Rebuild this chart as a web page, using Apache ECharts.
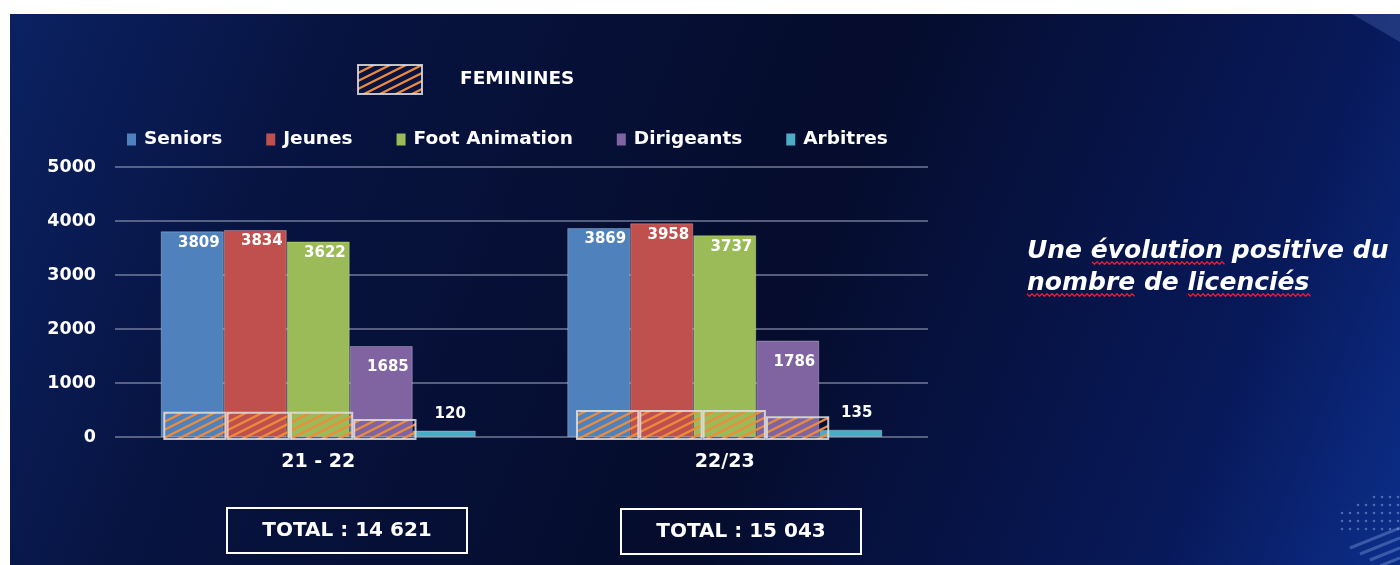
<!DOCTYPE html>
<html>
<head>
<meta charset="utf-8">
<script src="https://cdn.jsdelivr.net/npm/echarts@6/dist/echarts.min.js"></script>
<style>
html,body{margin:0;padding:0;background:#fff;}
#chart{width:1400px;height:565px;}
</style>
</head>
<body>
<div id="chart"></div>
<script>
// ---- data ----
const categories = ['21 - 22', '22/23'];
const seriesNames = ['Seniors', 'Jeunes', 'Foot Animation', 'Dirigeants', 'Arbitres'];
const seniors = [3809, 3869];
const jeunes = [3834, 3958];
const footAnimation = [3622, 3737];
const dirigeants = [1685, 1786];
const arbitres = [120, 135];
// feminine share (estimated from hatched overlays)
const femSeniors = [524, 555];
const femJeunes = [524, 555];
const femFootAnimation = [524, 555];
const femDirigeants = [389, 439];
const yTicks = [0, 1000, 2000, 3000, 4000, 5000];
const totals = ['TOTAL : 14 621', 'TOTAL : 15 043'];
const sideText = ['Une évolution positive du', 'nombre de licenciés'];
const femLegend = 'FEMININES';

// ---- styles ----
const FONT = 'DejaVu Sans';
const colors = ['#4f81bd', '#c0504d', '#9bbb59', '#8064a2', '#4bacc6'];
const mainData = [seniors, jeunes, footAnimation, dirigeants, arbitres];
const femData = [femSeniors, femJeunes, femFootAnimation, femDirigeants];

// hatch pattern
function makeHatch(bg) {
  const c = document.createElement('canvas');
  c.width = 16; c.height = 8;
  const ctx = c.getContext('2d');
  if (bg) { ctx.fillStyle = bg; ctx.fillRect(0, 0, 16, 8); }
  ctx.strokeStyle = '#ee8c3a';
  ctx.lineWidth = 2.2;
  for (let k = -1; k <= 1; k++) {
    ctx.beginPath();
    ctx.moveTo(-16, 16 + k * 8);
    ctx.lineTo(32, -8 + k * 8);
    ctx.stroke();
  }
  return c;
}
const hatch = makeHatch(null);
const hatchLegend = makeHatch('#0a1440');

const chart = echarts.init(document.getElementById('chart'), null, {renderer: 'canvas'});

function zigzag(x1, x2, y) {
  const pts = [];
  let up = true;
  for (let x = x1; x <= x2; x += 2.5) {
    pts.push([x, y + (up ? -1.3 : 1.3)]);
    up = !up;
  }
  return pts;
}

const labelOffsets = [[0, 0], [0, 0], [0, 0], [0, 10]];

const series = [];
mainData.forEach((d, i) => {
  const isLast = i === 4;
  series.push({
    name: seriesNames[i],
    type: 'bar',
    xAxisIndex: 0, yAxisIndex: 0,
    data: d,
    barGap: '0%',
    barCategoryGap: '22.5%',
    itemStyle: {color: colors[i], borderColor: 'rgba(255,255,255,0.28)', borderWidth: 1},
    label: isLast ? {
      show: true, position: 'top', distance: 9, color: '#fff',
      fontFamily: FONT, fontWeight: 'bold', fontSize: 15, offset: [6, 0]
    } : {
      show: true, position: 'insideTopRight', distance: 4, color: '#fff',
      fontFamily: FONT, fontWeight: 'bold', fontSize: 15, offset: labelOffsets[i]
    },
    z: 2
  });
});
femData.forEach((d, i) => {
  series.push({
    name: femLegend,
    type: 'bar',
    xAxisIndex: 1, yAxisIndex: 1,
    data: d,
    barGap: '0%',
    barCategoryGap: '23.3%',
    itemStyle: {color: {image: hatch, repeat: 'repeat'}, borderColor: 'rgba(225,225,225,0.85)', borderWidth: 2},
    z: 3
  });
});
series.push({
  name: 'pad', type: 'bar', xAxisIndex: 1, yAxisIndex: 1,
  data: ['-', '-'], barGap: '0%', barCategoryGap: '23.3%'
});

const gridColor = 'rgba(140,146,175,0.6)';

const graphic = [
  {
    type: 'rect', left: 10, top: 14, z: -10, silent: true,
    shape: {width: 1390, height: 551},
    style: {fill: new echarts.graphic.LinearGradient(0, 0, 1, 1, [
      {offset: 0, color: '#0b2162'},
      {offset: 0.22, color: '#07133f'},
      {offset: 0.55, color: '#050c2c'},
      {offset: 0.85, color: '#08195a'},
      {offset: 1, color: '#0c2e8a'}
    ])}
  },
  {
    type: 'polygon', z: -9, silent: true,
    shape: {points: [[1352, 14], [1400, 14], [1400, 42]]},
    style: {fill: 'rgba(90,120,200,0.3)'}
  }
];
// decorative dots bottom-right
for (let r = 0; r < 5; r++) {
  for (let c = 0; c < 8; c++) {
    const x = 1342 + c * 8;
    const y = 497 + r * 8;
    if (x < 1342 + (r < 2 ? (2 - r) * 16 : 0)) continue;
    graphic.push({type: 'circle', silent: true, z: -8, shape: {cx: x, cy: y, r: 1.3},
      style: {fill: 'rgba(140,165,230,0.5)'}});
  }
}
for (let k = 0; k < 4; k++) {
  const x1 = 1350 + k * 10, y1 = 548 + k * 6;
  graphic.push({type: 'line', silent: true, z: -8,
    shape: {x1: x1, y1: y1, x2: 1400, y2: y1 - (1400 - x1) * 0.4},
    style: {stroke: 'rgba(150,175,235,0.35)', lineWidth: 3}});
}
// total boxes
const boxes = [{x: 227, y: 508}, {x: 621, y: 509}];
boxes.forEach((b, i) => {
  graphic.push({type: 'rect', silent: true, shape: {x: b.x, y: b.y, width: 240, height: 45},
    style: {fill: 'rgba(0,0,0,0)', stroke: '#ffffff', lineWidth: 2}});
  graphic.push({type: 'text', silent: true, x: b.x + 120, y: b.y + 22.5,
    style: {text: totals[i], fill: '#fff', font: 'bold 20px "' + FONT + '"', align: 'center', verticalAlign: 'middle'}});
});
// side text
sideText.forEach((t, i) => {
  graphic.push({type: 'text', silent: true, x: 1027, y: 251 + i * 32,
    style: {text: t, fill: '#fff', font: 'italic bold 25px "' + FONT + '"', align: 'left', verticalAlign: 'middle'}});
});
[[1092, 1225, 263], [1027, 1135, 295], [1188, 1312, 295]].forEach(u => {
  graphic.push({type: 'polyline', silent: true, shape: {points: zigzag(u[0], u[1], u[2])},
    style: {stroke: '#e0202a', lineWidth: 1.3, fill: null}});
});

const option = {
  backgroundColor: '#ffffff',
  animation: false,
  textStyle: {fontFamily: FONT},
  grid: [
    {left: 115, right: 472, top: 167, bottom: 128},
    {left: 115.2, right: 459.4, top: 170, bottom: 125}
  ],
  legend: [
    {
      data: [{name: femLegend, itemStyle: {color: {image: hatchLegend, repeat: 'repeat'}, borderColor: 'rgba(225,225,225,0.85)', borderWidth: 2}}],
      left: 357, top: 64, padding: 0,
      icon: 'rect', itemWidth: 64, itemHeight: 29,
      textStyle: {color: '#fff', fontFamily: FONT, fontWeight: 'bold', fontSize: 18.5, padding: [0, 0, 0, 33]},
      selectedMode: false
    },
    {
      data: seriesNames.map(n => ({name: n, itemStyle: {borderWidth: 0}})),
      left: 127, top: 130, padding: 0,
      icon: 'rect', itemWidth: 9, itemHeight: 12, itemGap: 44,
      textStyle: {color: '#fff', fontFamily: FONT, fontWeight: 'bold', fontSize: 18.5, padding: [0, 0, 0, 3]},
      selectedMode: false
    }
  ],
  xAxis: [
    {
      type: 'category', gridIndex: 0, data: categories,
      axisLine: {show: false}, axisTick: {show: false},
      axisLabel: {color: '#fff', fontFamily: FONT, fontWeight: 'bold', fontSize: 19, margin: 16}
    },
    {type: 'category', gridIndex: 1, data: categories, show: false}
  ],
  yAxis: [
    {
      type: 'value', gridIndex: 0,
      min: yTicks[0], max: yTicks[yTicks.length - 1], interval: yTicks[1] - yTicks[0],
      axisLine: {show: false}, axisTick: {show: false},
      splitLine: {lineStyle: {color: gridColor, width: 2}},
      axisLabel: {color: '#fff', fontFamily: FONT, fontWeight: 'bold', fontSize: 17.5, margin: 19,
        formatter: v => String(v)}
    },
    {type: 'value', gridIndex: 1, min: yTicks[0], max: yTicks[yTicks.length - 1], show: false}
  ],
  series: series,
  graphic: graphic
};
chart.setOption(option);
</script>
</body>
</html>
